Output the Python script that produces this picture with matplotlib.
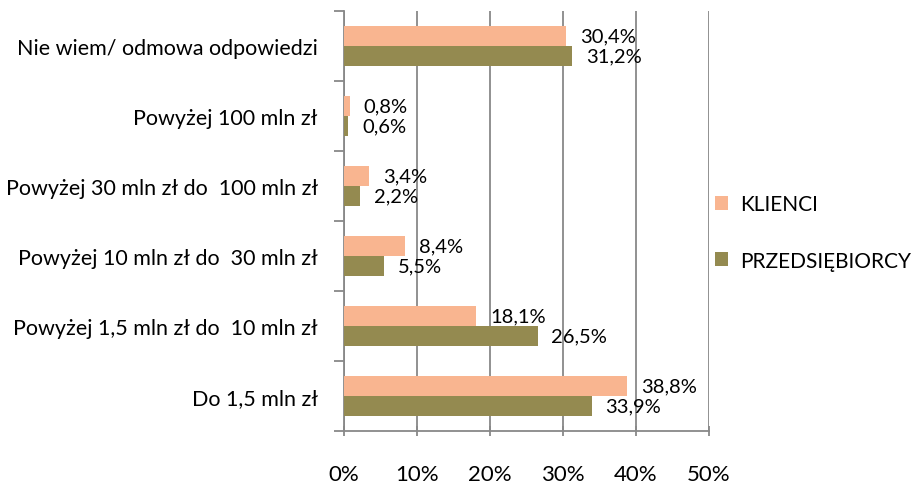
import numpy as np
import matplotlib.pyplot as plt

categories = ["Do 1,5 mln zł",
              "Powyżej 1,5 mln zł do  10 mln zł",
              "Powyżej 10 mln zł do  30 mln zł",
              "Powyżej 30 mln zł do  100 mln zł",
              "Powyżej 100 mln zł",
              "Nie wiem/ odmowa odpowiedzi"]
klienci = [38.8, 18.1, 8.4, 3.4, 0.8, 30.4]
przedsiebiorcy = [33.9, 26.5, 5.5, 2.2, 0.6, 31.2]
series_names = ["KLIENCI", "PRZEDSIĘBIORCY"]

plt.rcParams['font.family'] = ['Lato', 'DejaVu Sans']

fig = plt.figure(figsize=(9.2, 4.85), dpi=100)
ax = fig.add_axes([0.374, 0.1093, 0.3967, 0.866])

y = np.arange(len(categories))
h = 0.28
c_kl = '#F9B590'
c_pr = '#948A50'
b1 = ax.barh(y + h / 2, klienci, height=h, color=c_kl, label=series_names[0], zorder=3)
b2 = ax.barh(y - h / 2, przedsiebiorcy, height=h, color=c_pr, label=series_names[1], zorder=3)

def fmt(v):
    return f"{v:.1f}%".replace('.', ',')

for vals, off in ((klienci, h / 2), (przedsiebiorcy, -h / 2)):
    for i, v in enumerate(vals):
        ax.text(v + 1.9, i + off, fmt(v), va='center', ha='left', fontsize=14.5, zorder=4)

ax.set_xlim(0, 50)
ax.set_ylim(-0.5, len(categories) - 0.5)
ax.set_xticks(np.arange(0, 51, 10))
ax.set_xticklabels([f"{t}%" for t in range(0, 51, 10)], fontsize=16)
ax.set_yticks(y)
ax.set_yticklabels(categories, fontsize=15.5)
ax.set_yticks(np.arange(-0.5, len(categories), 1), minor=True)
ax.tick_params(axis='y', which='major', length=0, pad=19)
ax.tick_params(axis='y', which='minor', length=7, width=1.3, color='#888888', direction='out')
ax.tick_params(axis='x', length=7, width=1.3, color='#888888', direction='inout', pad=20)

ax.grid(axis='x', color='#888888', linewidth=1.3, zorder=0)
for s in ('top', 'right'):
    ax.spines[s].set_visible(False)
for s in ('left', 'bottom'):
    ax.spines[s].set_color('#888888')
    ax.spines[s].set_linewidth(1.3)

fig.legend(handles=[b1, b2], labels=series_names, loc='center left',
           bbox_to_anchor=(0.770, 0.5186), frameon=False, fontsize=15,
           handlelength=0.65, handleheight=0.65, labelspacing=1.75,
           handletextpad=0.55, borderaxespad=0, borderpad=0.3)

fig.savefig("out.png", dpi=100)
